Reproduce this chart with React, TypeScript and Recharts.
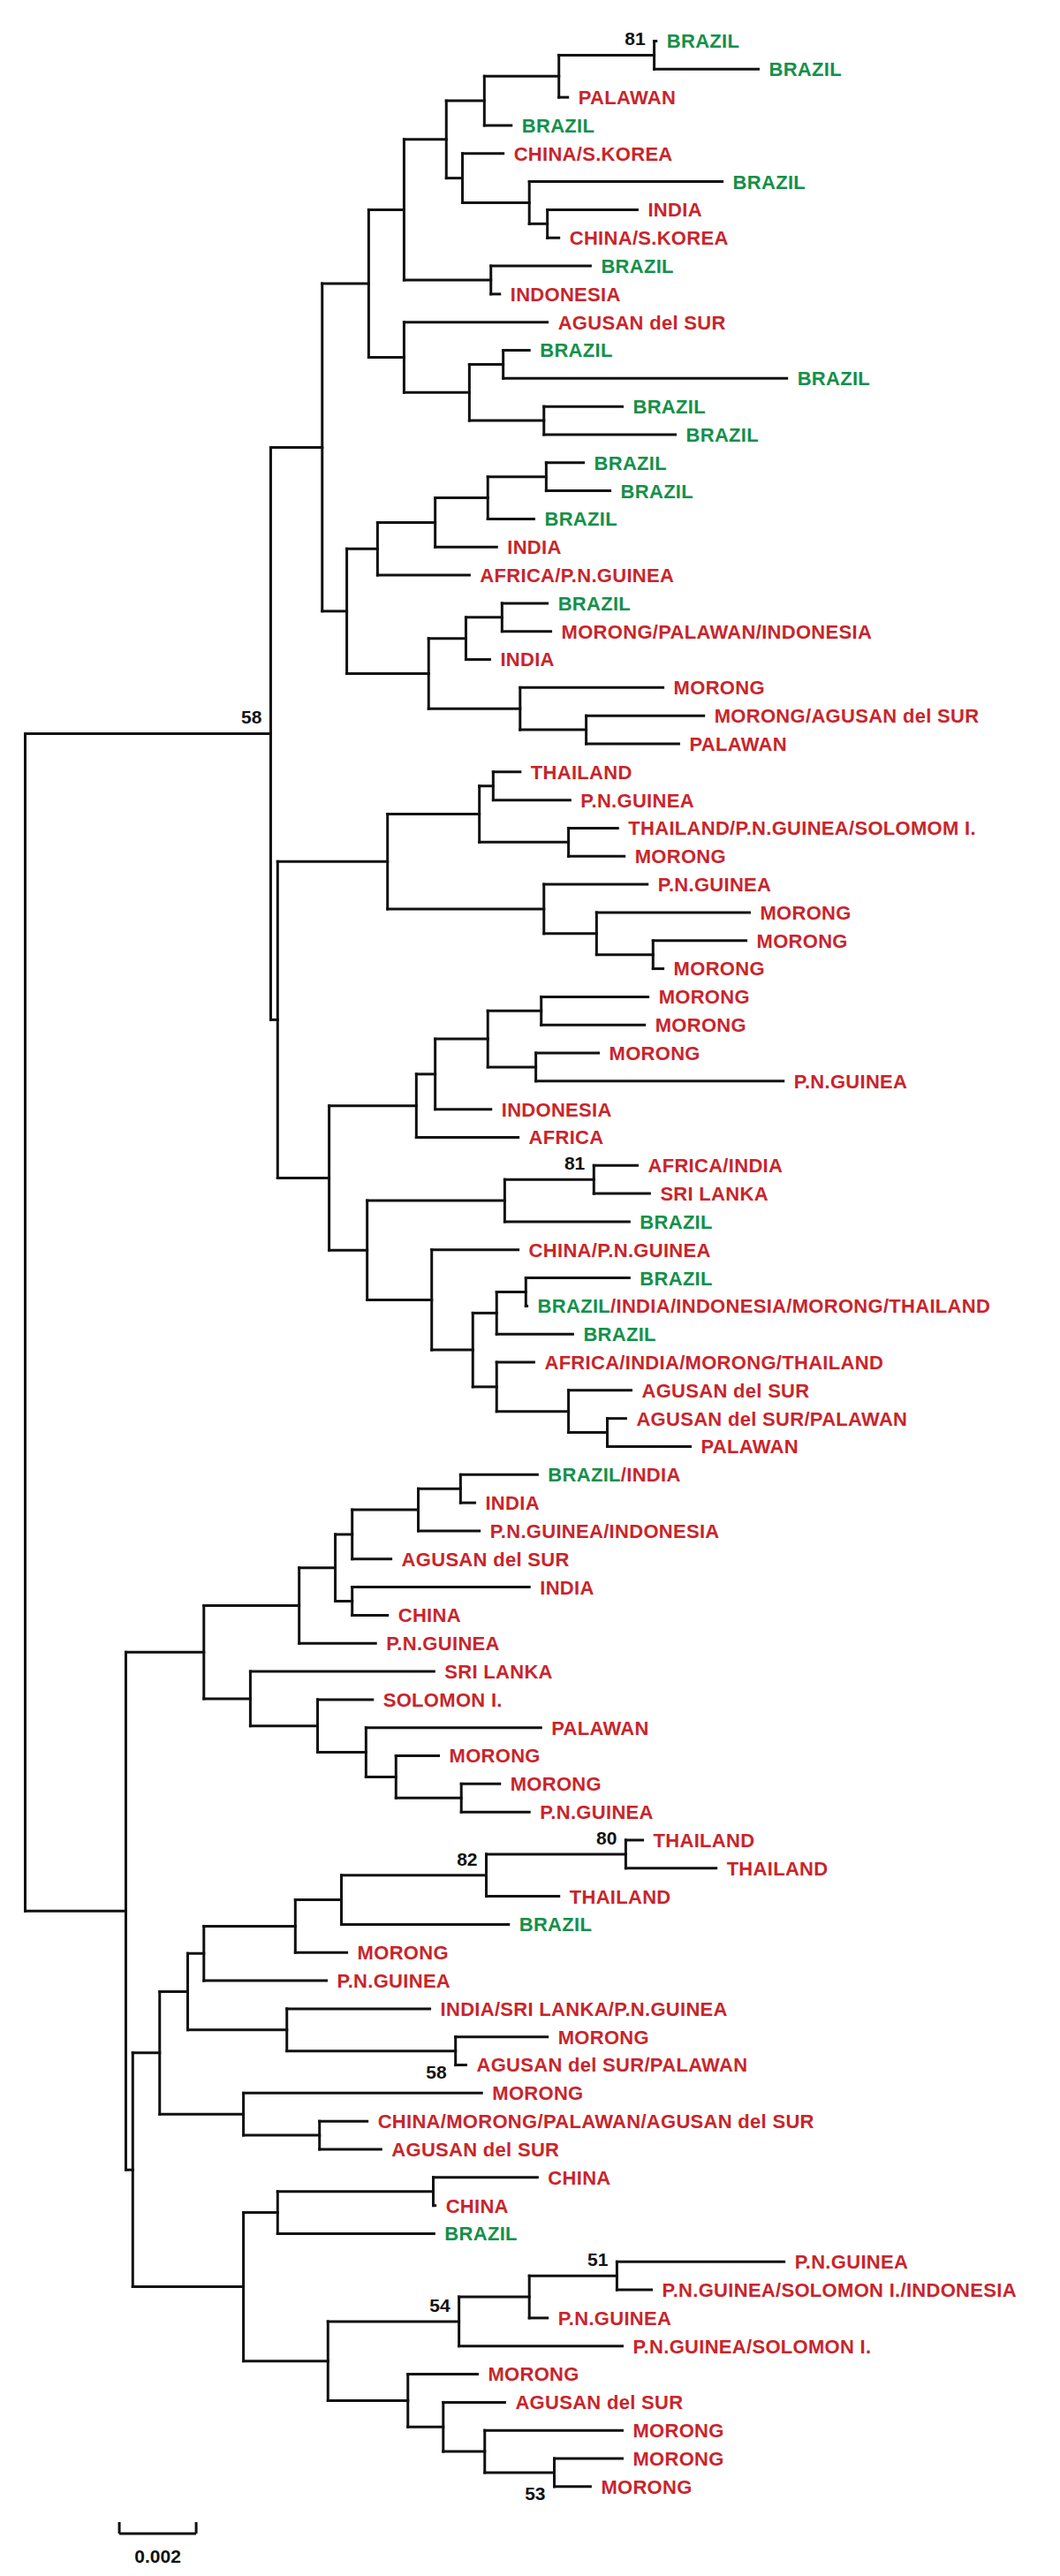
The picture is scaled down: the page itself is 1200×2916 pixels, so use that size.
import React from 'react';
import { ScatterChart, XAxis, YAxis, ReferenceLine, Scatter } from 'recharts';

// Leaf labels, top to bottom
const leafNames: string[] = [
  'BRAZIL', 'BRAZIL', 'PALAWAN', 'BRAZIL', 'CHINA/S.KOREA', 'BRAZIL', 'INDIA', 'CHINA/S.KOREA',
  'BRAZIL', 'INDONESIA', 'AGUSAN del SUR', 'BRAZIL', 'BRAZIL', 'BRAZIL', 'BRAZIL', 'BRAZIL',
  'BRAZIL', 'BRAZIL', 'INDIA', 'AFRICA/P.N.GUINEA', 'BRAZIL', 'MORONG/PALAWAN/INDONESIA', 'INDIA', 'MORONG',
  'MORONG/AGUSAN del SUR', 'PALAWAN', 'THAILAND', 'P.N.GUINEA', 'THAILAND/P.N.GUINEA/SOLOMOM I.', 'MORONG', 'P.N.GUINEA', 'MORONG',
  'MORONG', 'MORONG', 'MORONG', 'MORONG', 'MORONG', 'P.N.GUINEA', 'INDONESIA', 'AFRICA',
  'AFRICA/INDIA', 'SRI LANKA', 'BRAZIL', 'CHINA/P.N.GUINEA', 'BRAZIL', 'BRAZIL/INDIA/INDONESIA/MORONG/THAILAND', 'BRAZIL', 'AFRICA/INDIA/MORONG/THAILAND',
  'AGUSAN del SUR', 'AGUSAN del SUR/PALAWAN', 'PALAWAN', 'BRAZIL/INDIA', 'INDIA', 'P.N.GUINEA/INDONESIA', 'AGUSAN del SUR', 'INDIA',
  'CHINA', 'P.N.GUINEA', 'SRI LANKA', 'SOLOMON I.', 'PALAWAN', 'MORONG', 'MORONG', 'P.N.GUINEA',
  'THAILAND', 'THAILAND', 'THAILAND', 'BRAZIL', 'MORONG', 'P.N.GUINEA', 'INDIA/SRI LANKA/P.N.GUINEA', 'MORONG',
  'AGUSAN del SUR/PALAWAN', 'MORONG', 'CHINA/MORONG/PALAWAN/AGUSAN del SUR', 'AGUSAN del SUR', 'CHINA', 'CHINA', 'BRAZIL', 'P.N.GUINEA',
  'P.N.GUINEA/SOLOMON I./INDONESIA', 'P.N.GUINEA', 'P.N.GUINEA/SOLOMON I.', 'MORONG', 'AGUSAN del SUR', 'MORONG', 'MORONG', 'MORONG',
];

// Distance from root of each leaf tip (units of 0.001 substitutions/site)
const leafDepths: number[] = [
  16.42, 19.08, 14.12, 12.65, 12.44, 18.14, 15.93, 13.89,
  14.71, 12.35, 13.59, 13.12, 19.82, 15.54, 16.92, 14.53,
  15.22, 13.24, 12.27, 11.56, 13.59, 13.68, 12.09, 16.60,
  17.66, 17.01, 12.88, 14.18, 15.42, 15.59, 16.19, 18.85,
  18.76, 16.60, 16.21, 16.12, 14.92, 19.73, 12.12, 12.83,
  15.93, 16.25, 15.72, 12.83, 15.72, 13.06, 14.25, 13.24,
  15.77, 15.63, 17.31, 13.33, 11.70, 11.82, 9.52, 13.12,
  9.43, 9.12, 10.64, 9.04, 13.42, 10.76, 12.35, 13.12,
  16.07, 17.98, 13.89, 12.58, 8.37, 7.84, 10.53, 13.59,
  11.47, 11.88, 8.90, 9.26, 13.33, 10.67, 10.64, 19.75,
  16.30, 13.59, 15.54, 11.77, 12.48, 15.54, 15.54, 14.71,
];

// Internal nodes: [id, distance from root, child 1, child 2]; numbers are leaf numbers (1-based)
type Ref = string | number;
const clades: [string, number, Ref, Ref][] = [
  ['R', 0, 'T', 'B'],
  ['T', 6.39, 'T1', 'T2'],
  ['T1', 7.73, 'A', 'A2'],
  ['A', 8.94, 'A1', 'A3'],
  ['A1', 9.86, 'A11', 'A12'],
  ['A11', 10.96, 'A111', 'A112'],
  ['A111', 11.95, 'A1111', 4],
  ['A1111', 13.89, 'A81', 3],
  ['A81', 16.37, 1, 2],
  ['A112', 11.38, 5, 'A1121'],
  ['A1121', 13.12, 6, 'A11211'],
  ['A11211', 13.59, 7, 8],
  ['A12', 12.12, 9, 10],
  ['A3', 9.86, 11, 'A31'],
  ['A31', 11.56, 'A311', 'A312'],
  ['A311', 12.44, 12, 13],
  ['A312', 13.5, 14, 15],
  ['A2', 8.37, 'A21', 'A22'],
  ['A21', 9.17, 'A211', 20],
  ['A211', 10.67, 'A2111', 19],
  ['A2111', 12.04, 'A21111', 18],
  ['A21111', 13.56, 16, 17],
  ['A22', 10.5, 'A221', 'A222'],
  ['A221', 11.47, 'A2211', 23],
  ['A2211', 12.41, 21, 22],
  ['A222', 12.88, 24, 'A2221'],
  ['A2221', 14.6, 25, 26],
  ['T2', 6.57, 'C', 'D'],
  ['C', 9.43, 'C1', 'C2'],
  ['C1', 11.82, 'C11', 'C12'],
  ['C11', 12.18, 27, 28],
  ['C12', 14.14, 29, 30],
  ['C2', 13.5, 31, 'C21'],
  ['C21', 14.87, 32, 'C211'],
  ['C211', 16.34, 33, 34],
  ['D', 7.91, 'D1', 'D2'],
  ['D1', 10.18, 'D11', 40],
  ['D11', 10.67, 'D111', 39],
  ['D111', 12.04, 'D1111', 'D1112'],
  ['D1111', 13.43, 35, 36],
  ['D1112', 13.29, 37, 38],
  ['D2', 8.9, 'D21', 'D22'],
  ['D21', 12.48, 'D211', 43],
  ['D211', 14.8, 41, 42],
  ['D22', 10.58, 44, 'D221'],
  ['D221', 11.65, 'D2211', 'D2212'],
  ['D2211', 12.27, 'D22111', 47],
  ['D22111', 13.03, 45, 46],
  ['D2212', 12.27, 48, 'D22121'],
  ['D22121', 14.14, 49, 'D221211'],
  ['D221211', 15.15, 50, 51],
  ['B', 2.62, 'E', 'F'],
  ['E', 4.65, 'E1', 'E2'],
  ['E1', 7.13, 'E11', 58],
  ['E11', 8.07, 'E111', 'E112'],
  ['E111', 8.51, 'E1111', 55],
  ['E1111', 10.23, 'E11111', 54],
  ['E11111', 11.33, 52, 53],
  ['E112', 8.51, 56, 57],
  ['E2', 5.86, 59, 'E21'],
  ['E21', 7.61, 60, 'E211'],
  ['E211', 8.87, 61, 'E2111'],
  ['E2111', 9.65, 62, 'E21111'],
  ['E21111', 11.35, 63, 64],
  ['F', 2.8, 'G', 'H'],
  ['G', 3.5, 'G1', 'G2'],
  ['G1', 4.23, 'G11', 'G12'],
  ['G11', 4.65, 'G111', 70],
  ['G111', 7.03, 'G1111', 69],
  ['G1111', 8.23, 'G11111', 68],
  ['G11111', 12.0, 'G111111', 67],
  ['G111111', 15.63, 65, 66],
  ['G12', 6.81, 71, 'G121'],
  ['G121', 11.2, 72, 73],
  ['G2', 5.68, 74, 'G21'],
  ['G21', 7.66, 75, 76],
  ['H', 5.68, 'H1', 'H2'],
  ['H1', 6.57, 'H11', 79],
  ['H11', 10.62, 77, 78],
  ['H2', 7.88, 'H21', 'H22'],
  ['H21', 11.29, 'H211', 83],
  ['H211', 13.12, 'H2111', 82],
  ['H2111', 15.4, 80, 81],
  ['H22', 9.96, 84, 'H221'],
  ['H221', 10.88, 85, 'H2211'],
  ['H2211', 11.96, 86, 'H22111'],
  ['H22111', 13.77, 87, 88],
];

// Bootstrap support values
const bootNodes: string[] = ['A81', 'T', 'D211', 'G11111', 'G111111', 'G121', 'H2111', 'H21', 'H22111'];
const bootValues: number[] = [81, 58, 81, 82, 80, 58, 51, 54, 53];
const bootBelow: boolean[] = [false, false, false, false, false, true, false, false, true];

// Scale bar (units of 0.001)
const scaleBarStart = 2.45;
const scaleBarLength = 2;
const scaleBarLabel = '0.002';

// ---------- derived layout ----------
const W = 1200;
const H = 2916;
const PX_PER_UNIT = 43.5;
const ROOT_PX = 28.5;
const ROW_PX = 31.82;
const FIRST_ROW_PX = 46.5;
const xDomain: [number, number] = [-ROOT_PX / PX_PER_UNIT, (W - ROOT_PX) / PX_PER_UNIT];
const yDomain: [number, number] = [-FIRST_ROW_PX / ROW_PX, (H - FIRST_ROW_PX) / ROW_PX];
const scaleBarRow = 88.67;
const scaleBarTickRow = 88.26;
const scaleLabelRow = 89.46;

const keyOf = (r: Ref) => (typeof r === 'number' ? 'L' + r : r);
const xOf: Record<string, number> = {};
const yOf: Record<string, number> = {};
const cladeMap: Record<string, [string, number, Ref, Ref]> = {};
leafNames.forEach((_, i) => {
  xOf['L' + (i + 1)] = leafDepths[i];
  yOf['L' + (i + 1)] = i;
});
clades.forEach((c) => {
  cladeMap[c[0]] = c;
  xOf[c[0]] = c[1];
});
const getY = (k: string): number => {
  if (yOf[k] !== undefined) return yOf[k];
  const c = cladeMap[k];
  const v = (getY(keyOf(c[2])) + getY(keyOf(c[3]))) / 2;
  yOf[k] = v;
  return v;
};

type Seg = { x1: number; y1: number; x2: number; y2: number };
const segments: Seg[] = [];
clades.forEach(([, d, a, b]) => {
  const ka = keyOf(a);
  const kb = keyOf(b);
  const ya = getY(ka);
  const yb = getY(kb);
  segments.push({ x1: d, y1: ya, x2: d, y2: yb });
  segments.push({ x1: d, y1: ya, x2: xOf[ka], y2: ya });
  segments.push({ x1: d, y1: yb, x2: xOf[kb], y2: yb });
});

const leafData = leafNames.map((n, i) => ({ x: leafDepths[i], y: i, name: n }));
const bootData = bootNodes.map((n, i) => ({ x: xOf[n], y: getY(n), v: bootValues[i], below: bootBelow[i] }));
const scaleData = [{ x: scaleBarStart + scaleBarLength / 2, y: scaleLabelRow, label: scaleBarLabel }];

const GREEN = '#14904a';
const RED = '#c8252b';
const FONT = '"Liberation Sans", Arial, Helvetica, sans-serif';
const FS = 22;

const LeafLabel = (p: any) => {
  const name: string = p.payload.name;
  const parts = name.split(/(\/)/).filter((s) => s.length > 0);
  return (
    <text
      x={p.cx + 12}
      y={p.cy + FS * 0.36}
      fontFamily={FONT}
      fontWeight="bold"
      fontSize={FS}
      letterSpacing={0.3}
    >
      {parts.map((s, i) => (
        <tspan key={i} fill={s === 'BRAZIL' ? GREEN : RED}>
          {s}
        </tspan>
      ))}
    </text>
  );
};

const BootLabel = (p: any) => (
  <text
    x={p.cx - 10}
    y={p.cy + (p.payload.below ? 23 : -19) + FS * 0.36}
    textAnchor="end"
    fontFamily={FONT}
    fontWeight="bold"
    fontSize={21}
    fill="#111"
  >
    {p.payload.v}
  </text>
);

const ScaleLabel = (p: any) => (
  <text
    x={p.cx}
    y={p.cy + FS * 0.36}
    textAnchor="middle"
    fontFamily={FONT}
    fontWeight="bold"
    fontSize={21}
    fill="#111"
  >
    {p.payload.label}
  </text>
);

const LINE = '#111';
const SW = 3;

export default function App() {
  return (
    <div style={{ position: 'absolute', left: 0, top: 0, width: W, height: H, background: '#fff' }}>
      <ScatterChart width={W} height={H} margin={{ top: 0, right: 0, bottom: 0, left: 0 }}>
        <XAxis type="number" dataKey="x" domain={xDomain} allowDataOverflow hide />
        <YAxis type="number" dataKey="y" domain={yDomain} allowDataOverflow reversed hide />
        {segments.map((s, i) => (
          <ReferenceLine
            key={'s' + i}
            segment={[{ x: s.x1, y: s.y1 }, { x: s.x2, y: s.y2 }]}
            stroke={LINE}
            strokeWidth={SW}
            strokeLinecap="square"
            ifOverflow="visible"
          />
        ))}
        <ReferenceLine
          segment={[{ x: scaleBarStart, y: scaleBarRow }, { x: scaleBarStart + scaleBarLength, y: scaleBarRow }]}
          stroke={LINE}
          strokeWidth={SW}
          ifOverflow="visible"
        />
        <ReferenceLine
          segment={[{ x: scaleBarStart, y: scaleBarRow }, { x: scaleBarStart, y: scaleBarTickRow }]}
          stroke={LINE}
          strokeWidth={SW}
          ifOverflow="visible"
        />
        <ReferenceLine
          segment={[{ x: scaleBarStart + scaleBarLength, y: scaleBarRow }, { x: scaleBarStart + scaleBarLength, y: scaleBarTickRow }]}
          stroke={LINE}
          strokeWidth={SW}
          ifOverflow="visible"
        />
        <Scatter data={leafData} shape={LeafLabel} isAnimationActive={false} />
        <Scatter data={bootData} shape={BootLabel} isAnimationActive={false} />
        <Scatter data={scaleData} shape={ScaleLabel} isAnimationActive={false} />
      </ScatterChart>
    </div>
  );
}
